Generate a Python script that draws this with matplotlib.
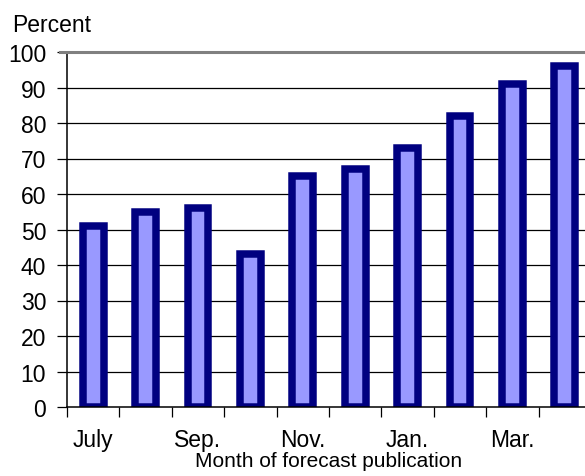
import numpy as np
import matplotlib
matplotlib.use("Agg")
import matplotlib.pyplot as plt

# --- data ---
months = ["July", "Aug.", "Sep.", "Oct.", "Nov.", "Dec.", "Jan.", "Feb.", "Mar.", "Apr."]
shown_labels = ["July", "", "Sep.", "", "Nov.", "", "Jan.", "", "Mar.", ""]
percent = [51, 55, 56, 43, 65, 67, 73, 82, 91, 96]
yticks = np.arange(0, 101, 10)

plt.rcParams["font.family"] = ["Liberation Sans", "DejaVu Sans"]

fig = plt.figure(figsize=(5.85, 4.77), dpi=100)
# plot area runs past the right edge of the picture, as in the original
ax = fig.add_axes([67 / 585, (477 - 408) / 477, 524 / 585, 355 / 477])

x = np.arange(len(months))
ax.bar(x, percent, width=0.40, color="#9999FF", edgecolor="#000080",
       linewidth=5.4, zorder=3)

ax.set_xlim(-0.5, len(months) - 0.5)
ax.set_ylim(0, 100)

# horizontal gridlines
for v in yticks[1:-1]:
    ax.axhline(v, color="black", linewidth=0.9, zorder=1)
# top border of the plot area is grey, running over its tick
ax.axhline(100, xmin=-7 / 524, color="#808080", linewidth=2.2, zorder=5, clip_on=False)

ax.set_yticks(yticks)
ax.tick_params(axis="y", direction="out", length=7, width=0.9, labelsize=16.5, pad=8)

# labels at category centres, ticks at boundaries
ax.set_xticks(x)
ax.set_xticklabels(shown_labels, fontsize=16.5)
ax.tick_params(axis="x", which="major", length=0, pad=15)
ax.set_xticks(np.arange(-0.5, len(months), 1), minor=True)
ax.tick_params(axis="x", which="minor", direction="out", length=7, width=0.9)

for s in ["top", "right"]:
    ax.spines[s].set_visible(False)
ax.spines["left"].set_linewidth(1.1)
ax.spines["bottom"].set_linewidth(1.1)
ax.spines["bottom"].set_zorder(4)

ax.set_xlabel("Month of forecast publication", fontsize=15, labelpad=0)
fig.text(12 / 585, 1 - 32 / 477, "Percent", fontsize=16.5, va="baseline", ha="left")

fig.savefig("out.png", dpi=100)
